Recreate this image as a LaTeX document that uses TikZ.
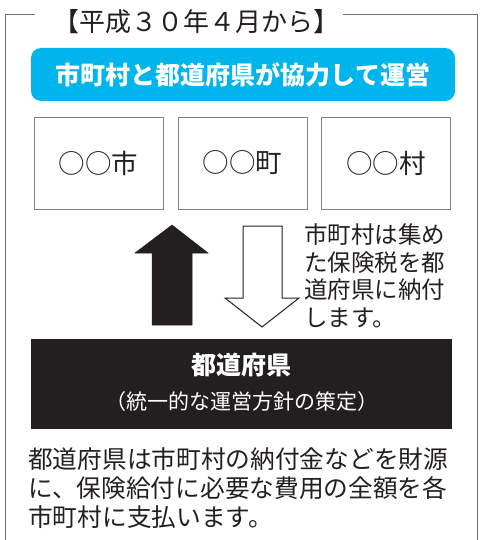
\documentclass[tikz,border=0pt]{standalone}
\usepackage{fontspec}
\setmainfont{Noto Sans CJK JP}
\definecolor{hblue}{HTML}{00B5EC}
\definecolor{hdark}{HTML}{231F20}
\definecolor{hframe}{HTML}{6D6E71}
\definecolor{hbox}{HTML}{808285}
\tikzset{
  frameline/.style={draw=hframe, line width=1pt},
  titletext/.style={inner sep=0pt, font=\fontsize{26}{30}\selectfont, text=hdark},
  banner/.style={fill=hblue, rounded corners=10pt, minimum width=424pt, minimum height=53pt, inner sep=0pt, text=white, font=\fontsize{25}{30}\selectfont\bfseries},
  townbox/.style={draw=hbox, line width=0.8pt, minimum width=129pt, minimum height=92pt, inner sep=0pt, text=hdark, font=\fontsize{26.5}{30}\selectfont},
  prefbox/.style={fill=hdark, minimum width=421pt, minimum height=90pt, inner sep=0pt},
  bodytext/.style={inner sep=0pt, align=left, text=hdark},
  upshape/.style={fill=hdark, draw=hdark, line width=0.5pt},
  downshape/.style={fill=white, draw=hdark, line width=1pt, line join=miter},
}
\begin{document}
\begin{tikzpicture}[x=1pt,y=-1pt]
\useasboundingbox (0,0) rectangle (480,540);
\draw[frameline] (35,15) -- (5,15) -- (5,540);
\draw[frameline] (343,15) -- (477,15) -- (477,540);
\node[titletext] (title) at (196,22) {【平成３０年４月から】};
\node[banner] (banner) at (243,74.5) {市町村と都道府県が協力して運営};
\node[townbox] (city) at (98.5,163) {○○市};
\node[townbox] (town) at (242.5,163) {○○町};
\node[townbox] (village) at (386,163) {○○村};
\coordinate (up) at (172,225);
\coordinate (down) at (262,327);
\draw[upshape] (152,325) -- (152,253) -- (135,253) -- (up) -- (208,253) -- (192,253) -- (192,325) -- cycle;
\draw[downshape] (243,226) -- (282,226) -- (282,298) -- (299,298) -- (down) -- (225,298) -- (243,298) -- cycle;
\node[bodytext, anchor=west, font=\fontsize{23.5}{27.5}\selectfont] (note) at (304,276) {市町村は集め\\た保険税を都\\道府県に納付\\します。};
\node[prefbox] (pref) at (241.5,384) {};
\node[inner sep=0pt, text=white, font=\fontsize{25}{30}\selectfont\bfseries] (preftitle) at (241.5,365) {都道府県};
\node[inner sep=0pt, text=white, font=\fontsize{21}{25}\selectfont] (prefsub) at (241.5,402) {（統一的な運営方針の策定）};
\node[bodytext, anchor=west, font=\fontsize{24.7}{29}\selectfont] (bottom) at (28,488) {都道府県は市町村の納付金などを財源\\に、保険給付に必要な費用の全額を各\\市町村に支払います。};
\end{tikzpicture}
\end{document}
